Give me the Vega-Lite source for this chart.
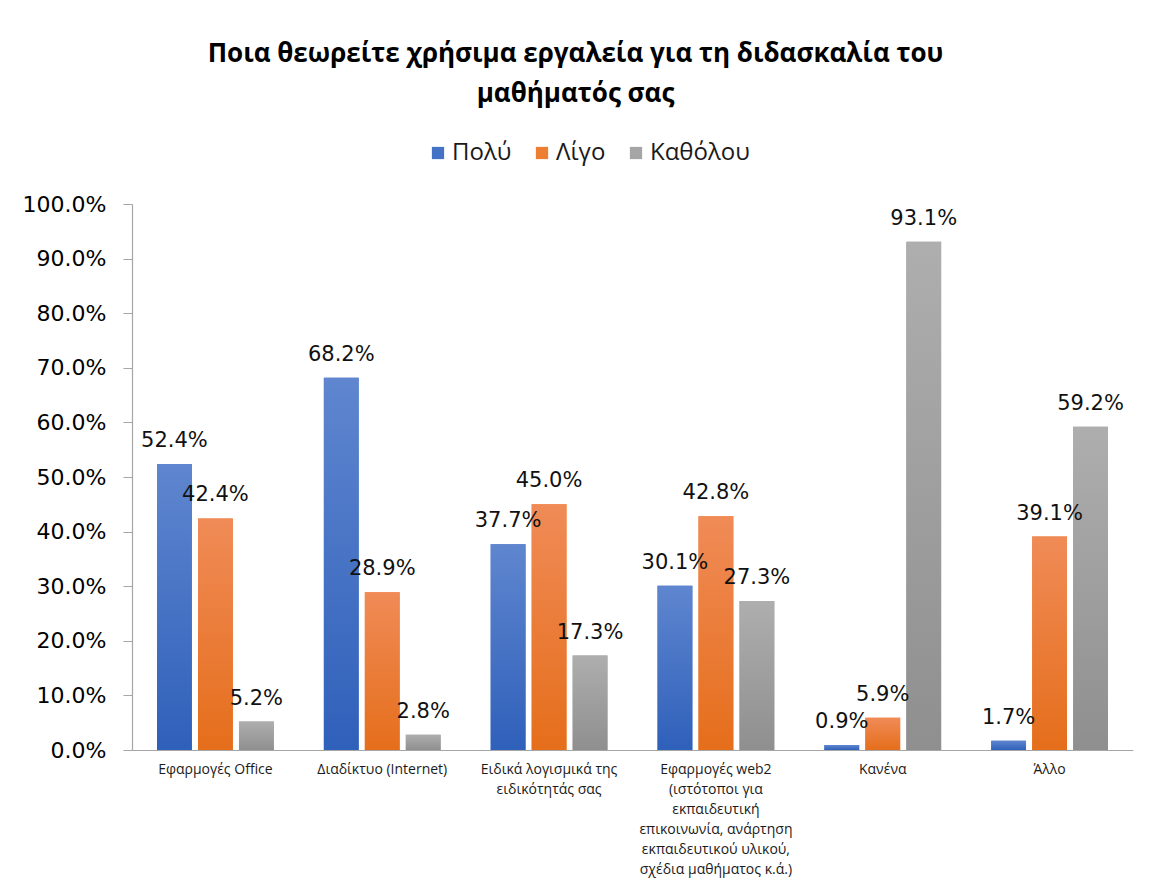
{
  "$schema": "https://vega.github.io/schema/vega-lite/v6.json",
  "width": 1001,
  "height": 546,
  "autosize": {"type": "none"},
  "padding": {"left": 132, "top": 204, "right": 17, "bottom": 138},
  "background": "white",
  "config": {
    "view": {"stroke": null},
    "font": "Open Sans",
    "axis": {"grid": false}
  },
  "title": {
    "text": ["Ποια θεωρείτε χρήσιμα εργαλεία για τη διδασκαλία του", "μαθήματός σας"],
    "font": "Open Sans",
    "fontSize": 26,
    "fontWeight": "bold",
    "color": "#000000",
    "lineHeight": 40,
    "anchor": "middle",
    "dx": -57,
    "offset": 34
  },
  "data": {
    "values": [
      {"cat": "Εφαρμογές Office", "series": "Πολύ", "v": 0.524},
      {"cat": "Εφαρμογές Office", "series": "Λίγο", "v": 0.424},
      {"cat": "Εφαρμογές Office", "series": "Καθόλου", "v": 0.052},
      {"cat": "Διαδίκτυο (Internet)", "series": "Πολύ", "v": 0.682},
      {"cat": "Διαδίκτυο (Internet)", "series": "Λίγο", "v": 0.289},
      {"cat": "Διαδίκτυο (Internet)", "series": "Καθόλου", "v": 0.028},
      {"cat": "Ειδικά λογισμικά της|ειδικότητάς σας", "series": "Πολύ", "v": 0.377},
      {"cat": "Ειδικά λογισμικά της|ειδικότητάς σας", "series": "Λίγο", "v": 0.45},
      {"cat": "Ειδικά λογισμικά της|ειδικότητάς σας", "series": "Καθόλου", "v": 0.173},
      {"cat": "Εφαρμογές web2|(ιστότοποι για|εκπαιδευτική|επικοινωνία, ανάρτηση|εκπαιδευτικού υλικού,|σχέδια μαθήματος κ.ά.)", "series": "Πολύ", "v": 0.301},
      {"cat": "Εφαρμογές web2|(ιστότοποι για|εκπαιδευτική|επικοινωνία, ανάρτηση|εκπαιδευτικού υλικού,|σχέδια μαθήματος κ.ά.)", "series": "Λίγο", "v": 0.428},
      {"cat": "Εφαρμογές web2|(ιστότοποι για|εκπαιδευτική|επικοινωνία, ανάρτηση|εκπαιδευτικού υλικού,|σχέδια μαθήματος κ.ά.)", "series": "Καθόλου", "v": 0.273},
      {"cat": "Κανένα", "series": "Πολύ", "v": 0.009},
      {"cat": "Κανένα", "series": "Λίγο", "v": 0.059},
      {"cat": "Κανένα", "series": "Καθόλου", "v": 0.931},
      {"cat": "Άλλο", "series": "Πολύ", "v": 0.017},
      {"cat": "Άλλο", "series": "Λίγο", "v": 0.391},
      {"cat": "Άλλο", "series": "Καθόλου", "v": 0.592}
    ]
  },
  "encoding": {
    "x": {
      "field": "cat",
      "type": "nominal",
      "sort": null,
      "scale": {"paddingInner": 0.3, "paddingOuter": 0.15},
      "axis": {
        "title": null,
        "labelAngle": 0,
        "labelExpr": "split(datum.label, '|')",
        "labelFontSize": 14,
        "labelLineHeight": 20,
        "labelColor": "#1a1a1a",
        "labelPadding": 12,
        "labelBaseline": "top",
        "labelLimit": 200,
        "ticks": false,
        "domainColor": "#a6a6a6",
        "domainWidth": 1.2
      }
    },
    "xOffset": {
      "field": "series",
      "type": "nominal",
      "sort": ["Πολύ", "Λίγο", "Καθόλου"],
      "scale": {"paddingInner": 0.15, "paddingOuter": 0}
    },
    "y": {
      "field": "v",
      "type": "quantitative",
      "scale": {"domain": [0, 1], "nice": false},
      "axis": {
        "title": null,
        "values": [0, 0.1, 0.2, 0.3, 0.4, 0.5, 0.6, 0.7, 0.8, 0.9, 1],
        "format": ".1%",
        "labelFont": "DejaVu Sans",
        "labelFontSize": 22,
        "labelColor": "#000000",
        "labelPadding": 17,
        "tickSize": 9,
        "tickColor": "#a6a6a6",
        "domainColor": "#a6a6a6",
        "domainWidth": 1.2
      }
    }
  },
  "layer": [
    {
      "mark": {"type": "bar"},
      "encoding": {
        "color": {
          "field": "series",
          "type": "nominal",
          "sort": ["Πολύ", "Λίγο", "Καθόλου"],
          "scale": {"domain": ["Πολύ", "Λίγο", "Καθόλου"], "range": ["#4472C4", "#ED7D31", "#A5A5A5"]},
          "legend": {
            "title": null,
            "orient": "none",
            "direction": "horizontal",
            "legendX": 294,
            "legendY": -63,
            "symbolType": "square",
            "symbolSize": 150,
            "symbolStrokeWidth": 0,
            "labelFontSize": 24,
            "labelFont": "Open Sans",
            "labelColor": "#1a1a1a",
            "labelOffset": 2,
            "columnPadding": 18
          }
        }
      }
    },
    {
      "mark": {"type": "bar"},
      "encoding": {
        "fill": {
          "condition": [
            {"test": "datum.series === 'Πολύ'", "value": {"gradient": "linear", "x1": 0, "y1": 0, "x2": 0, "y2": 1, "stops": [{"offset": 0, "color": "#5F86CF"}, {"offset": 1, "color": "#2F60BA"}]}},
            {"test": "datum.series === 'Λίγο'", "value": {"gradient": "linear", "x1": 0, "y1": 0, "x2": 0, "y2": 1, "stops": [{"offset": 0, "color": "#F08B57"}, {"offset": 1, "color": "#E56E1B"}]}}
          ],
          "value": {"gradient": "linear", "x1": 0, "y1": 0, "x2": 0, "y2": 1, "stops": [{"offset": 0, "color": "#AEAEAE"}, {"offset": 1, "color": "#8F8F8F"}]}
        }
      }
    },
    {
      "mark": {"type": "text", "baseline": "alphabetic", "dy": -17, "fontSize": 21, "font": "DejaVu Sans", "color": "#111111"},
      "encoding": {
        "text": {"field": "v", "type": "quantitative", "format": ".1%"}
      }
    }
  ]
}
